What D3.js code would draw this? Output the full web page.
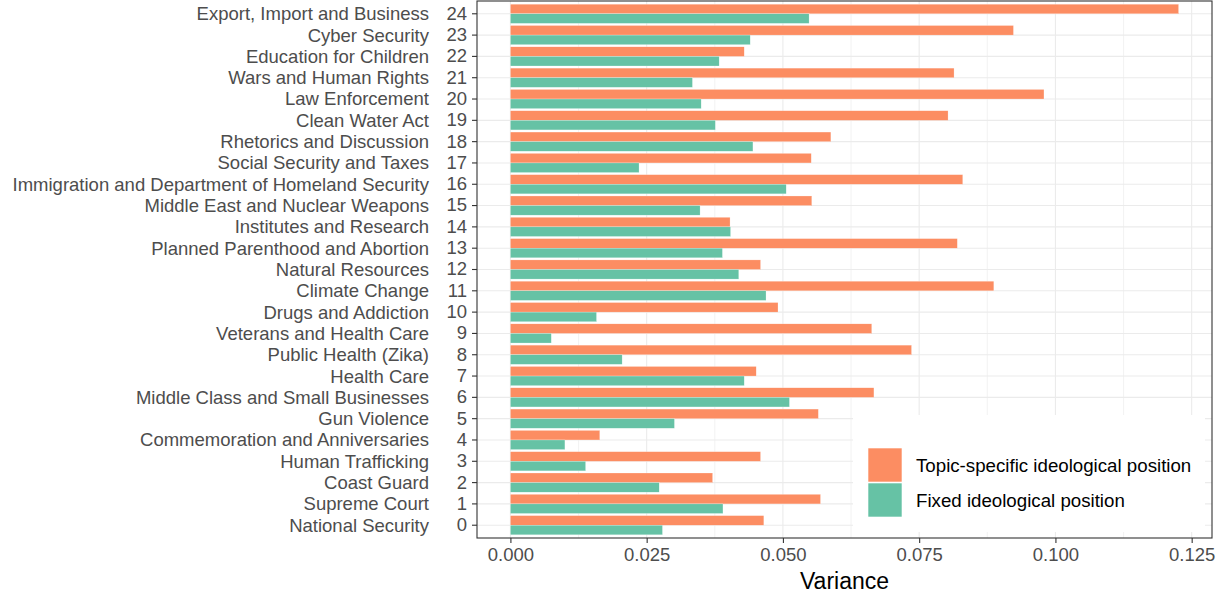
<!DOCTYPE html>
<html>
<head>
<meta charset="utf-8">
<script src="https://cdn.jsdelivr.net/npm/d3@7/dist/d3.min.js"></script>
<style>
    body { margin: 0; background: #fff; }
    text { font-family: "Liberation Sans", Arial, sans-serif; }
</style>
</head>
<body>
<div id="chart"></div>
<script>
// topic index 0..24
const topics = [
    "National Security", "Supreme Court", "Coast Guard", "Human Trafficking",
    "Commemoration and Anniversaries", "Gun Violence", "Middle Class and Small Businesses",
    "Health Care", "Public Health (Zika)", "Veterans and Health Care", "Drugs and Addiction",
    "Climate Change", "Natural Resources", "Planned Parenthood and Abortion",
    "Institutes and Research", "Middle East and Nuclear Weapons",
    "Immigration and Department of Homeland Security", "Social Security and Taxes",
    "Rhetorics and Discussion", "Clean Water Act", "Law Enforcement", "Wars and Human Rights",
    "Education for Children", "Cyber Security", "Export, Import and Business"
];
const topicSpecific = [
    0.0465, 0.0569, 0.0371, 0.0459, 0.0164, 0.0565, 0.0667, 0.0451, 0.0736, 0.0663,
    0.0491, 0.0887, 0.0459, 0.0820, 0.0403, 0.0553, 0.0830, 0.0552, 0.0588, 0.0803,
    0.0979, 0.0814, 0.0429, 0.0923, 0.1226
];
const fixedPosition = [
    0.0279, 0.0390, 0.0273, 0.0138, 0.0100, 0.0301, 0.0512, 0.0429, 0.0205, 0.0075,
    0.0158, 0.0469, 0.0419, 0.0389, 0.0404, 0.0348, 0.0506, 0.0236, 0.0445, 0.0376,
    0.0350, 0.0334, 0.0383, 0.0440, 0.0548
];
const seriesNames = ["Topic-specific ideological position", "Fixed ideological position"];
const seriesColours = ["#FC8D62", "#66C2A5"];
const xTicks = [0, 0.025, 0.05, 0.075, 0.1, 0.125];

const W = 1226, H = 595;
const panel = { left: 477, right: 1212, top: 1, bottom: 538 };
const labelSize = 18.5;

const svg = d3.select("#chart").append("svg")
    .attr("width", W).attr("height", H);

const maxV = d3.max(topicSpecific);
const x = d3.scaleLinear()
    .domain([-maxV * 0.05, maxV * 1.05])
    .range([panel.left, panel.right]);

const ids = d3.range(topics.length).reverse();  // 24 at top
const y = d3.scaleBand()
    .domain(ids)
    .range([panel.top, panel.bottom])
    .paddingInner(0.1)
    .paddingOuter(0.15);
const ySub = d3.scaleBand()
    .domain([0, 1])
    .range([0, y.bandwidth()]);

// panel background + grid
const g = svg.append("g");
g.append("rect")
    .attr("x", panel.left).attr("y", panel.top)
    .attr("width", panel.right - panel.left).attr("height", panel.bottom - panel.top)
    .attr("fill", "#fff");

const minorTicks = d3.range(0.0125, 0.13, 0.025);
g.selectAll(".minor").data(minorTicks).enter().append("line")
    .attr("x1", d => x(d)).attr("x2", d => x(d))
    .attr("y1", panel.top).attr("y2", panel.bottom)
    .attr("stroke", "#EBEBEB").attr("stroke-width", 0.6);
g.selectAll(".vmajor").data(xTicks).enter().append("line")
    .attr("x1", d => x(d)).attr("x2", d => x(d))
    .attr("y1", panel.top).attr("y2", panel.bottom)
    .attr("stroke", "#EBEBEB").attr("stroke-width", 1.1);
g.selectAll(".hmajor").data(ids).enter().append("line")
    .attr("x1", panel.left).attr("x2", panel.right)
    .attr("y1", d => y(d) + y.bandwidth() / 2).attr("y2", d => y(d) + y.bandwidth() / 2)
    .attr("stroke", "#EBEBEB").attr("stroke-width", 1.1);

// bars
const rows = ids.map(i => ({ id: i, vals: [topicSpecific[i], fixedPosition[i]] }));
const rowG = svg.append("g").selectAll("g").data(rows).enter().append("g")
    .attr("transform", d => `translate(0,${y(d.id)})`);
rowG.selectAll("rect").data(d => d.vals.map((v, s) => ({ v, s }))).enter().append("rect")
    .attr("x", x(0))
    .attr("y", d => ySub(d.s))
    .attr("width", d => x(d.v) - x(0))
    .attr("height", ySub.bandwidth())
    .attr("fill", d => seriesColours[d.s])
    .attr("stroke", "#fff").attr("stroke-width", 0.4).attr("stroke-opacity", 0.6);

// legend
const leg = svg.append("g");
leg.append("rect")
    .attr("x", 853).attr("y", 415).attr("width", 352).attr("height", 117)
    .attr("fill", "#fff");
seriesNames.forEach((name, s) => {
    const ky = 448 + s * 35;
    leg.append("rect")
        .attr("x", 868).attr("y", ky).attr("width", 34).attr("height", 34)
        .attr("fill", seriesColours[s])
        .attr("stroke", "#fff").attr("stroke-width", 0.6);
    leg.append("text")
        .attr("x", 916).attr("y", ky + 17).attr("dy", "0.35em")
        .attr("font-size", 18.7).attr("fill", "#000")
        .text(name);
});

// panel border
svg.append("rect")
    .attr("x", panel.left).attr("y", panel.top)
    .attr("width", panel.right - panel.left).attr("height", panel.bottom - panel.top)
    .attr("fill", "none").attr("stroke", "#333").attr("stroke-width", 1.1);

// x axis
const xAxis = svg.append("g")
    .attr("transform", `translate(0,${panel.bottom})`)
    .call(d3.axisBottom(x).tickValues(xTicks).tickFormat(d3.format(".3f"))
        .tickSize(5).tickPadding(5));
xAxis.select(".domain").remove();
xAxis.selectAll(".tick line").attr("stroke", "#333").attr("stroke-width", 1.1);
xAxis.selectAll(".tick text")
    .attr("font-size", labelSize).attr("fill", "#4D4D4D")
    .attr("font-family", "Liberation Sans, Arial, sans-serif");

// y axis (index numbers)
const yAxis = svg.append("g")
    .attr("transform", `translate(${panel.left},0)`)
    .call(d3.axisLeft(y).tickSize(5).tickPadding(5));
yAxis.select(".domain").remove();
yAxis.selectAll(".tick line").attr("stroke", "#333").attr("stroke-width", 1.1);
yAxis.selectAll(".tick text")
    .attr("font-size", labelSize).attr("fill", "#4D4D4D")
    .attr("font-family", "Liberation Sans, Arial, sans-serif");

// topic names
svg.append("g").selectAll("text").data(ids).enter().append("text")
    .attr("x", 429)
    .attr("y", d => y(d) + y.bandwidth() / 2)
    .attr("dy", "0.35em")
    .attr("text-anchor", "end")
    .attr("font-size", labelSize).attr("fill", "#4D4D4D")
    .text(d => topics[d]);

// axis title
svg.append("text")
    .attr("x", (panel.left + panel.right) / 2).attr("y", 589)
    .attr("text-anchor", "middle")
    .attr("font-size", 23).attr("fill", "#000")
    .text("Variance");
</script>
</body>
</html>
